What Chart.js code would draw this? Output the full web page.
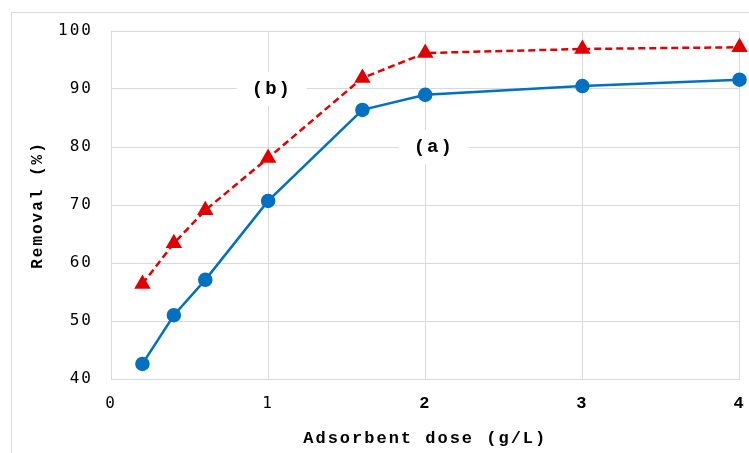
<!DOCTYPE html>
<html>
<head>
<meta charset="utf-8">
<script src="https://cdn.jsdelivr.net/npm/chart.js@4.4.0/dist/chart.umd.min.js"></script>
<style>
  html, body { margin: 0; padding: 0; background: #fff; }
  #wrap { width: 749px; height: 453px; position: relative; }
</style>
</head>
<body>
<div id="wrap"><canvas id="myChart" width="749" height="453"></canvas></div>
<script>
// adsorbent dose (g/L)
const doses = [0.2, 0.4, 0.6, 1, 1.6, 2, 3, 4];
// removal (%) curves
const removalA = [42.6, 51.0, 57.1, 70.7, 86.4, 89.0, 90.5, 91.6];
const removalB = [56.4, 63.4, 69.1, 78.1, 91.9, 96.2, 96.9, 97.2];
const xTicks = [0, 1, 2, 3, 4];
const yTicks = [40, 50, 60, 70, 80, 90, 100];
// curve labels placed in data units
const curveLabels = [
    {text: '(b)', x: 1.024, y: 90},
    {text: '(a)', x: 2.054, y: 80}
];

const toPoints = (xs, ys) => xs.map((x, i) => ({x: x, y: ys[i]}));

const frame = {
    id: 'frame',
    beforeDraw(chart) {
        const c = chart.ctx;
        c.save();
        c.fillStyle = '#fff';
        c.fillRect(0, 0, chart.width, chart.height);
        c.strokeStyle = '#d9d9d9';
        c.lineWidth = 1;
        c.strokeRect(11.5, 12.5, 800, 500);
        c.restore();
        c.letterSpacing = '2px';
    }
};

const labelsPlugin = {
    id: 'curveLabels',
    afterDatasetsDraw(chart) {
        const c = chart.ctx;
        const xs = chart.scales.x, ys = chart.scales.y;
        c.save();
        c.font = 'bold 19px "Liberation Mono"';
        c.textAlign = 'center';
        c.textBaseline = 'middle';
        curveLabels.forEach(l => {
            const px = xs.getPixelForValue(l.x);
            const py = ys.getPixelForValue(l.y);
            c.fillStyle = '#fff';
            c.fillRect(px - 35, py - 17, 70, 34);
            c.fillStyle = '#000';
            c.fillText(l.text, px, py);
        });
        c.restore();
    }
};

new Chart(document.getElementById('myChart'), {
    type: 'scatter',
    data: {
        datasets: [{
            label: '(b)',
            data: toPoints(doses, removalB),
            showLine: true,
            clip: false,
            borderColor: '#e00000',
            backgroundColor: '#e00000',
            borderWidth: 2.5,
            borderDash: [7, 4],
            pointStyle: 'triangle',
            pointRadius: 7,
            pointHoverRadius: 7
        }, {
            label: '(a)',
            data: toPoints(doses, removalA),
            showLine: true,
            clip: false,
            borderColor: '#0070c0',
            backgroundColor: '#0070c0',
            borderWidth: 2.5,
            pointStyle: 'circle',
            pointRadius: 6,
            pointHoverRadius: 6
        }]
    },
    options: {
        responsive: false,
        animation: false,
        layout: { padding: { top: 31, right: 9, left: 0, bottom: 0 } },
        plugins: {
            legend: { display: false },
            tooltip: { enabled: false }
        },
        scales: {
            x: {
                type: 'linear',
                min: 0,
                max: 4,
                afterBuildTicks: s => { s.ticks = xTicks.map(v => ({value: v})); },
                afterFit: s => { s.height = 74; s.paddingRight = 0; s.paddingLeft = 0; },
                grid: { color: '#d9d9d9', drawTicks: false },
                border: { color: '#d9d9d9' },
                ticks: {
                    color: '#000',
                    padding: 15,
                    font: ctx => ctx.tick && ctx.tick.value < 2
                        ? {family: '"DejaVu Sans Mono"', size: 16}
                        : {family: '"Liberation Mono"', size: 17, weight: 'bold'}
                },
                title: {
                    display: true,
                    text: 'Adsorbent dose (g/L)',
                    color: '#000',
                    font: {family: '"Liberation Mono"', size: 17, weight: 'bold'},
                    padding: {top: 10}
                }
            },
            y: {
                min: 40,
                max: 100,
                afterBuildTicks: s => { s.ticks = yTicks.map(v => ({value: v})); },
                afterFit: s => { s.width = 111; },
                grid: { color: '#d9d9d9', drawTicks: false },
                border: { color: '#d9d9d9' },
                ticks: {
                    color: '#000',
                    padding: 18,
                    font: {family: '"DejaVu Sans Mono"', size: 16}
                },
                title: {
                    display: true,
                    text: 'Removal (%)',
                    color: '#000',
                    font: {family: '"Liberation Mono"', size: 16, weight: 'bold'},
                    padding: {top: 28}
                }
            }
        }
    },
    plugins: [frame, labelsPlugin]
});
</script>
</body>
</html>
